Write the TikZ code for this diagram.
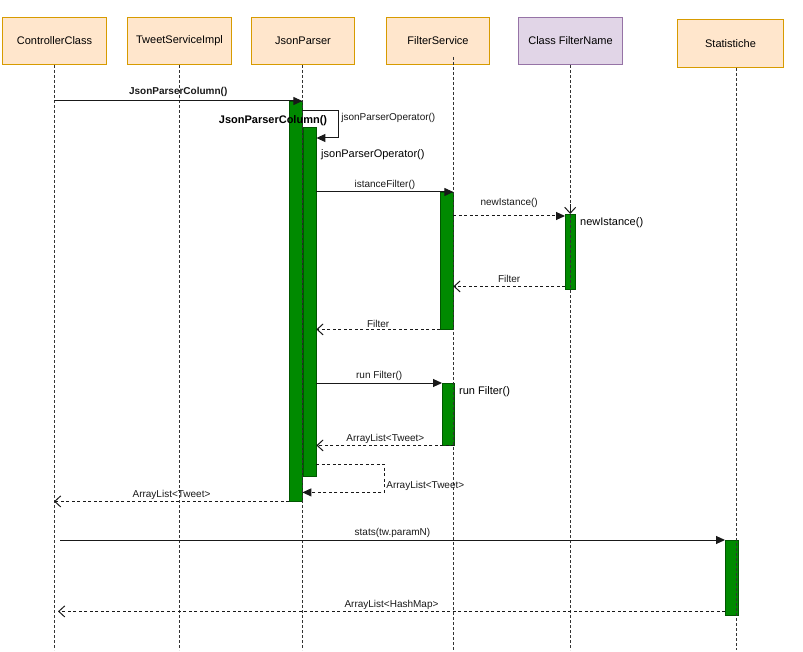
\documentclass[tikz,border=0pt]{standalone}
\usepackage{fontspec}
\setmainfont{Liberation Sans}
\usetikzlibrary{arrows.meta}
\definecolor{objfill}{HTML}{FFE6CC}
\definecolor{objline}{HTML}{D79B00}
\definecolor{clsfill}{HTML}{E1D5E7}
\definecolor{clsline}{HTML}{9673A6}
\definecolor{actfill}{HTML}{008A00}
\definecolor{actline}{HTML}{005700}

\begin{document}
\begin{tikzpicture}[x=1pt,y=-1pt, >={Triangle[length=9pt,width=8pt]},
    obj/.style={draw=objline,fill=objfill,line width=1pt,anchor=north west,
        minimum width=104pt,minimum height=47pt,font=\fontsize{11}{13}\selectfont},
    act/.style={draw=actline,fill=actfill,anchor=north west,
        minimum width=13pt,inner sep=0pt},
    life/.style={black!80,line width=0.8pt,dash pattern=on 3pt off 2pt},
    msg/.style={->,black!90,line width=1pt},
    msgd/.style={msg,dash pattern=on 3pt off 2.5pt},
    ret/.style={-{Straight Barb[length=6pt,width=11pt]},black!90,
        line width=1pt,dash pattern=on 3pt off 2.5pt},
    lbl/.style={font=\fontsize{10}{12}\selectfont,inner sep=1.5pt},
    big/.style={font=\fontsize{11}{13}\selectfont,inner sep=0pt}]
    \useasboundingbox (0,0) rectangle (803,652);
    % objects
    \node[obj] (ctrl) at (2,17) {ControllerClass};
    \node[obj] (tsi) at (127,17) {TweetServiceImpl};
    \node[obj,minimum width=103pt] (jp) at (251,17) {JsonParser};
    \node[obj,minimum width=103pt] (fs) at (386,17) {FilterService};
    \node[obj,draw=clsline,fill=clsfill] (fn) at (518,17) {Class FilterName};
    \node[obj,minimum width=106pt,minimum height=48pt] (st) at (677,19) {Statistiche};
    % activations
    \node[act,minimum height=400pt] (jpA) at (289,101) {};
    \node[act,minimum height=349pt] (jpB) at (303,127) {};
    \node[act,minimum height=137pt] (fsA) at (440,192) {};
    \node[act,minimum width=10pt,minimum height=75pt] (fnA) at (565,214) {};
    \node[act,minimum width=12pt,minimum height=62pt] (fsB) at (442,383) {};
    \node[act,minimum height=75pt] (stA) at (725,540) {};
    % lifelines
    \foreach \n/\x/\y in {ctrl/54/65, tsi/179/65, jp/302/65, fs/453/57,
        fn/570/65, st/736/68}
        \draw[life] (\x,\y) coordinate (\n-top) -- (\x,650) coordinate (\n-end);
    \draw[ret,solid] ([yshift=10pt]fnA.north) -- (fnA.north);
    % messages
    \draw[msg] (ctrl-top |- jpA.north) -- (jpA.north east)
        node[lbl,midway,above,yshift=2pt,font=\fontsize{10}{12}\selectfont\bfseries] {JsonParserColumn()};
    \draw[msg] ([yshift=-10pt]jpA.north east) -- ++(36,0)
        node[lbl,anchor=north west,xshift=1pt] {jsonParserOperator()}
        |- ([yshift=-11pt]jpB.north east);
    \draw[msg] (jpB.east |- fsA.north) -- (fsA.north east)
        node[lbl,midway,above] {istanceFilter()};
    \draw[msgd] ([yshift=-2pt]fnA.north west) coordinate (niE)
        (fsA.east |- niE) -- (niE) node[lbl,midway,above,yshift=6pt] {newIstance()};
    \draw[ret] ([yshift=3pt]fnA.south west) coordinate (fiS) -- (fsA.east |- fiS)
        node[lbl,midway,above,yshift=2pt] {Filter};
    \draw[ret] (fsA.south west) -- (jpB.east |- fsA.south)
        node[lbl,midway,above] {Filter};
    \draw[msg] (jpB.east |- fsB.north) -- (fsB.north west)
        node[lbl,midway,above] {run Filter()};
    \draw[ret] (fsB.south east) -- (jpB.east |- fsB.south)
        node[lbl,midway,above] {ArrayList<Tweet>};
    \draw[msgd] ([yshift=12pt]jpB.south east) -- ++(68,0) |- ([yshift=9pt]jpA.south east)
        node[lbl,pos=0.5,anchor=south west] {ArrayList<Tweet>};
    \draw[ret] (jpA.south west) -- (ctrl-top |- jpA.south)
        node[lbl,midway,above] {ArrayList<Tweet>};
    \draw[msg] ([xshift=6pt]ctrl-top |- stA.north) -- (stA.north west)
        node[lbl,midway,above] {stats(tw.paramN)};
    \draw[ret] ([yshift=4pt]stA.south west) coordinate (hmS) -- ([xshift=4pt]ctrl-top |- hmS)
        node[lbl,midway,above] {ArrayList<HashMap>};
    % activation labels
    \node[big,font=\fontsize{11}{13}\selectfont\bfseries] (jpAlbl) at (273,121) {JsonParserColumn()};
    \node[big,anchor=west] (jpBlbl) at (321,155) {jsonParserOperator()};
    \node[big,anchor=west] (fnAlbl) at (580,223) {newIstance()};
    \node[big,anchor=west] (fsBlbl) at (459,392) {run Filter()};
\end{tikzpicture}
\end{document}
